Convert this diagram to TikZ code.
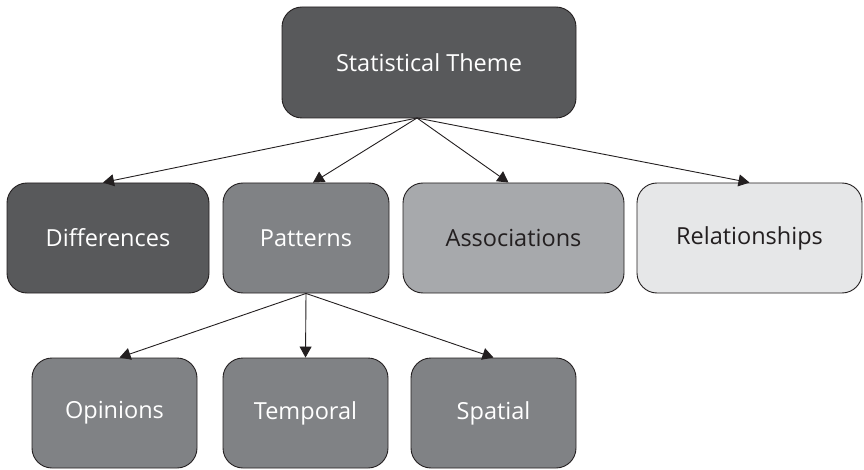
\documentclass[tikz,border=0pt]{standalone}
\usepackage{fontspec}
\setmainfont{Open Sans}
\usetikzlibrary{arrows.meta}
\definecolor{darkbox}{HTML}{58595B}
\definecolor{midbox}{HTML}{808285}
\definecolor{lightbox}{HTML}{A7A9AC}
\definecolor{palebox}{HTML}{E6E7E8}
\definecolor{edgecol}{HTML}{231F20}
\tikzset{
  boxnode/.style={draw=edgecol, line width=0.9pt, rounded corners=20pt, inner sep=0pt,
    font=\fontsize{23.5}{28}\selectfont, text=white},
  link/.style={draw=edgecol, line width=0.9pt, -{Triangle[length=11pt,width=12pt]}},
}
\begin{document}
\begin{tikzpicture}[x=1pt,y=-1pt]
\useasboundingbox (0,0) rectangle (864,470);
\node[boxnode, fill=darkbox, minimum width=294pt, minimum height=111pt] (top) at (429,62.5) {Statistical Theme};
\node[boxnode, fill=darkbox, minimum width=202pt, minimum height=110pt] (diff) at (108,238) {Differences};
\node[boxnode, fill=midbox, minimum width=166pt, minimum height=110pt] (patt) at (306,238) {Patterns};
\node[boxnode, fill=lightbox, text=edgecol, minimum width=221pt, minimum height=110pt] (assoc) at (513.5,238) {Associations};
\node[boxnode, fill=palebox, text=edgecol, minimum width=225pt, minimum height=110pt] (rel) at (749.5,238) {Relationships};
\node[boxnode, fill=midbox, minimum width=165pt, minimum height=110pt] (opin) at (114.5,413) {Opinions};
\node[boxnode, fill=midbox, minimum width=165pt, minimum height=110pt] (temp) at (305.5,413) {Temporal};
\node[boxnode, fill=midbox, minimum width=165pt, minimum height=110pt] (spat) at (493.5,413) {Spatial};
\coordinate (topout) at (417,118);
\draw[link] (topout) -- ([xshift=-5pt]diff.north);
\draw[link] (topout) -- ([xshift=7pt]patt.north);
\draw[link] (topout) -- ([xshift=-5pt]assoc.north);
\draw[link] (topout) -- (rel.north);
\draw[link] (patt.south) -- ([xshift=5pt]opin.north);
\draw[link] (patt.south) -- (temp.north);
\draw[link] (patt.south) -- (spat.north);
\end{tikzpicture}
\end{document}
